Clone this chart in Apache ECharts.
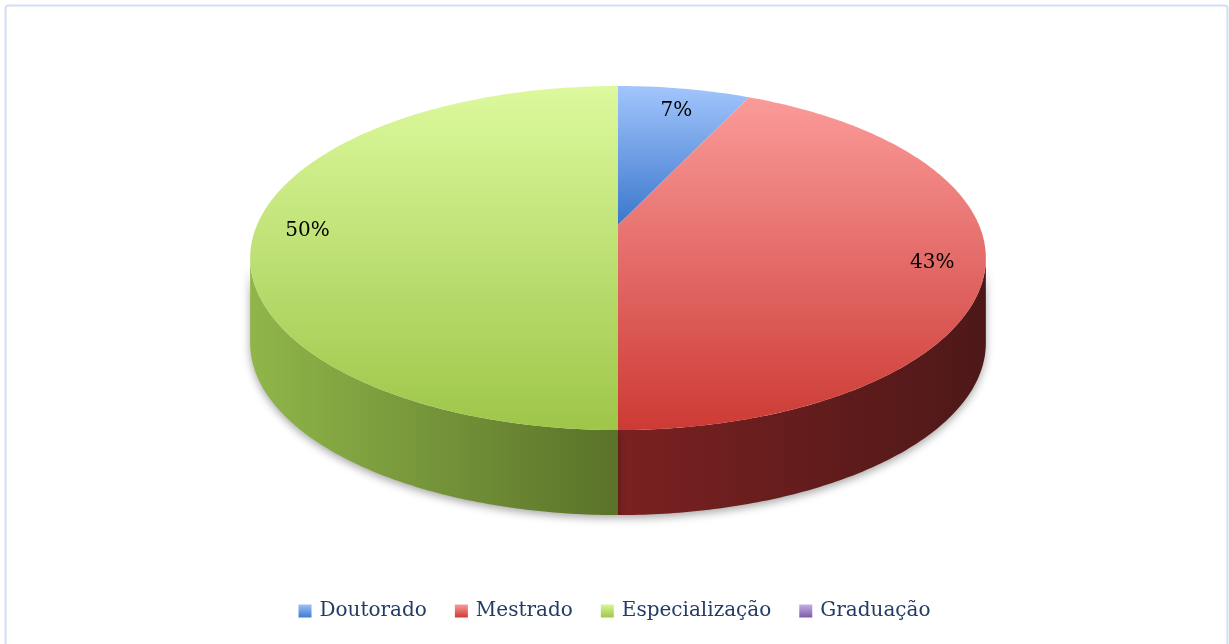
<!DOCTYPE html>
<html>
<head>
<meta charset="utf-8">
<script src="https://cdn.jsdelivr.net/npm/echarts@6/dist/echarts.min.js"></script>
<style>
html,body{margin:0;padding:0;background:#fff;}
#chart{width:1229px;height:644px;}
</style>
</head>
<body>
<div id="chart"></div>
<script>
// ---- data ----
const categories = ['Doutorado', 'Mestrado', 'Especialização', 'Graduação'];
const shares = [7, 43, 50, 0];
const percentLabels = ['7%', '43%', '50%', '0%'];

// ---- styles ----
const topColors = [
  ['#a2c5fc', '#3b77cc'],
  ['#fa9b99', '#cd3a35'],
  ['#dcf99d', '#9ec649'],
  ['#c7b2e6', '#7d5aa8']
];
const sideColors = [
  ['#2f5e9e', '#1e3f6e'],
  ['#7b2121', '#4e1818'],
  ['#90b64a', '#5a7229'],
  ['#5b407c', '#3b2855']
];
const legendColors = [
  ['#9dc0f7', '#3f7bd0'],
  ['#f99a98', '#cf3b36'],
  ['#d8f597', '#a0c74a'],
  ['#c4aee3', '#7e5aa8']
];

const total = shares.reduce((a, b) => a + b, 0);
const cumStart = [];
shares.reduce((acc, v, i) => { cumStart[i] = acc; return acc + v; }, 0);

// geometry of the tilted, perspective-projected disc (layout)
const G = { cx: 618, cy: 225, A: 361, B: 165.7, k: 0.192, depth: 85 };

// project a point at radius r, angle theta (0 = 12 o'clock, clockwise)
function pt(theta, r, dy) {
  const u = r * Math.sin(theta), v = r * Math.cos(theta);
  const w = 1 + G.k * v;
  return [G.cx + G.A * u / w, G.cy - G.B * v / w + (dy || 0)];
}
function grad(c, horizontal) {
  return new echarts.graphic.LinearGradient(0, 0, horizontal ? 1 : 0, horizontal ? 0 : 1,
    [{ offset: 0, color: c[0] }, { offset: 1, color: c[1] }]);
}
function angles(i) {
  const a0 = cumStart[i] / total * Math.PI * 2;
  const a1 = (cumStart[i] + shares[i]) / total * Math.PI * 2;
  return [a0, a1];
}

function renderSide(params, api) {
  const i = params.dataIndex;
  if (api.value(1) <= 0) return null;
  const [a0, a1] = angles(i);
  const sil = Math.acos(-G.k); // silhouette angle
  const s = Math.max(a0, sil), e = Math.min(a1, Math.PI * 2 - sil);
  if (e <= s) return null;
  const n = 120, top = [], bot = [];
  for (let k = 0; k <= n; k++) {
    const t = s + (e - s) * k / n;
    top.push(pt(t, 1, 0));
    bot.push(pt(t, 1, G.depth));
  }
  return {
    type: 'polygon',
    shape: { points: top.concat(bot.reverse()) },
    style: {
      fill: grad(sideColors[i], true),
      shadowBlur: 8, shadowColor: 'rgba(0,0,0,0.35)', shadowOffsetY: 3
    }
  };
}

function renderTop(params, api) {
  const i = params.dataIndex;
  if (api.value(1) <= 0) return null;
  const [a0, a1] = angles(i);
  const n = Math.max(8, Math.ceil((a1 - a0) / (Math.PI * 2) * 360));
  const points = [pt(0, 0, 0)];
  for (let k = 0; k <= n; k++) points.push(pt(a0 + (a1 - a0) * k / n, 1, 0));
  const m = (a0 + a1) / 2;
  const lp = pt(m, 0.86, 6);
  return {
    type: 'group',
    children: [
      { type: 'polygon', shape: { points: points }, style: { fill: grad(topColors[i], false) } },
      { type: 'text', z2: 10, x: lp[0], y: lp[1],
        style: { text: percentLabels[i], fill: '#000', font: '20px "DejaVu Serif"',
                 align: 'center', verticalAlign: 'middle' } }
    ]
  };
}

const seriesData = shares.map((v, i) => ({ name: categories[i], value: [i, v] }));

const legendSeries = categories.map((c, i) => ({
  type: 'custom', name: c, coordinateSystem: 'none', data: [],
  itemStyle: { color: grad(legendColors[i], false) },
  renderItem: () => null
}));

const chart = echarts.init(document.getElementById('chart'), null, { renderer: 'canvas' });
chart.setOption({
  animation: false,
  backgroundColor: '#fff',
  graphic: [{
    type: 'rect', shape: { x: 5.5, y: 5.5, width: 1222, height: 660, r: 3 },
    style: { fill: 'none', stroke: '#d3dff1', lineWidth: 2 }, z: 0
  }],
  legend: {
    data: categories,
    bottom: 18,
    left: 'center',
    icon: 'rect',
    itemWidth: 13, itemHeight: 13, itemGap: 28,
    textStyle: { fontFamily: 'DejaVu Serif', fontSize: 20, color: '#223c66', padding: [0, 0, 0, 3] }
  },
  series: [
    { type: 'custom', name: 'lado', coordinateSystem: 'none', data: seriesData, renderItem: renderSide, z: 1, silent: true },
    { type: 'custom', name: 'topo', coordinateSystem: 'none', data: seriesData, renderItem: renderTop, z: 2, silent: true }
  ].concat(legendSeries)
});
</script>
</body>
</html>
